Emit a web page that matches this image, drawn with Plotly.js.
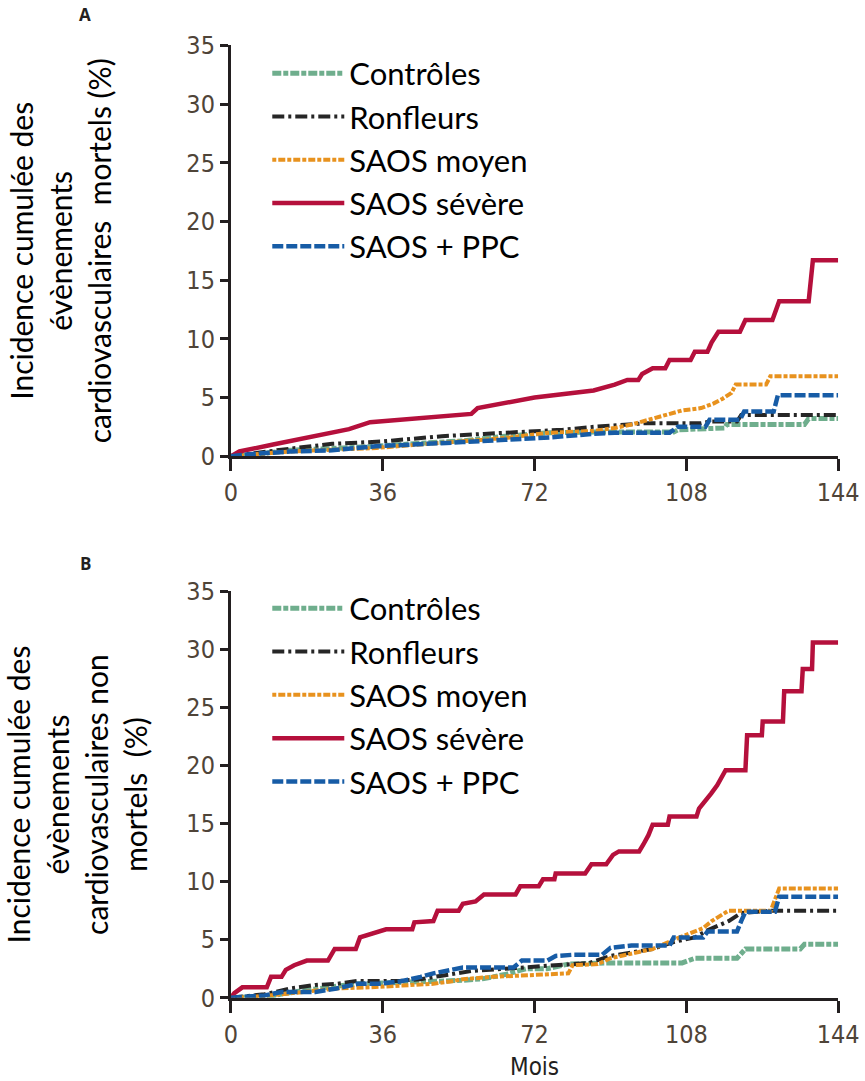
<!DOCTYPE html>
<html>
<head>
<meta charset="utf-8">
<script src="https://cdn.plot.ly/plotly-3.0.1.min.js"></script>
<style>html,body{margin:0;padding:0;background:#fff}#chart{width:865px;height:1081px}</style>
</head>
<body>
<div id="chart"></div>
<script>
// ---- Data (months, cumulative incidence %) ----
var seriesNames = ["Contrôles", "Ronfleurs", "SAOS moyen", "SAOS sévère", "SAOS + PPC"];
var xTickVals = [0, 36, 72, 108, 144];
var yTickVals = [0, 5, 10, 15, 20, 25, 30, 35];

// Panel A: fatal cardiovascular events
var monthsA_ctrl = [0, 5, 9, 14, 24, 29, 34.5, 44.8, 55, 65, 75.6, 86, 105, 106, 113.5, 117, 117.6, 136, 137, 144];
var valsA_ctrl   = [0, 0.1, 0.3, 0.5, 0.65, 0.7, 0.85, 1.1, 1.3, 1.7, 2.0, 2.05, 2.05, 2.25, 2.4, 2.4, 2.7, 2.7, 3.2, 3.2];

var monthsA_ronf = [0, 5, 12, 19, 24, 35.6, 41.7, 50, 60, 70, 78.7, 86, 91, 98, 111.5, 113.5, 120, 121, 144];
var valsA_ronf   = [0, 0.2, 0.55, 0.85, 1.05, 1.25, 1.45, 1.7, 1.9, 2.1, 2.25, 2.5, 2.6, 2.8, 2.8, 2.95, 2.95, 3.5, 3.5];

var monthsA_moy = [0, 6, 14, 24, 34.5, 44.8, 55, 65, 75.6, 86, 91, 95, 99, 103, 107, 111.5, 114.5, 116.6, 118.7, 119.7, 126.9, 127.9, 144];
var valsA_moy   = [0, 0.2, 0.4, 0.55, 0.7, 1.0, 1.25, 1.55, 2.0, 2.15, 2.4, 2.7, 3.1, 3.5, 3.9, 4.1, 4.5, 4.9, 5.4, 6.1, 6.1, 6.8, 6.8];

var monthsA_sev = [0, 2, 10, 20, 28, 33, 40, 50, 57, 58.5, 65, 72, 80, 86, 91, 94, 96.6, 97.5, 100, 103, 104, 109, 110, 113, 114, 115.6, 120.7, 122, 128.4, 130, 137, 138, 144];
var valsA_sev   = [0, 0.4, 1.0, 1.7, 2.3, 2.9, 3.1, 3.35, 3.6, 4.1, 4.5, 5.0, 5.35, 5.6, 6.1, 6.5, 6.5, 7.0, 7.5, 7.5, 8.2, 8.2, 8.9, 8.9, 9.7, 10.6, 10.6, 11.6, 11.6, 13.2, 13.2, 16.7, 16.7];

var monthsA_ppc = [0, 3.8, 14, 24, 34.5, 44.8, 55, 65, 75.6, 86, 91, 104, 106, 112.5, 113.5, 120.7, 121.7, 128.7, 129.7, 144];
var valsA_ppc   = [0, 0.15, 0.4, 0.5, 0.85, 1.0, 1.2, 1.4, 1.6, 1.9, 2.0, 2.0, 2.5, 2.5, 3.1, 3.1, 3.8, 3.8, 5.2, 5.2];

// Panel B: non-fatal cardiovascular events
var monthsB_ctrl = [0, 10, 15, 20, 25, 30, 40, 50, 55, 60, 65, 70, 75, 80, 90, 107, 110, 120, 122, 135, 136, 144];
var valsB_ctrl   = [0, 0.2, 0.5, 0.8, 1.0, 1.2, 1.3, 1.4, 1.5, 1.65, 2.0, 2.5, 2.5, 2.9, 3.0, 3.0, 3.4, 3.4, 4.2, 4.2, 4.6, 4.6];

var monthsB_ronf = [0, 8, 14, 20, 25, 30, 40, 45, 50, 57, 65, 72, 78, 85, 90, 100, 105, 110, 113, 118, 121, 128, 144];
var valsB_ronf   = [0, 0.3, 0.8, 1.1, 1.2, 1.45, 1.45, 1.6, 1.9, 2.3, 2.5, 2.7, 2.8, 3.0, 3.6, 4.2, 4.8, 5.2, 5.8, 6.6, 7.3, 7.5, 7.5];

var monthsB_moy = [0, 6, 12, 18, 25, 33, 45, 48, 52, 55, 62, 72, 80, 81, 87, 90, 95, 100, 105, 108, 112, 114, 118, 128, 129, 130, 144];
var valsB_moy   = [0, 0.1, 0.3, 0.5, 0.8, 0.9, 1.1, 1.2, 1.4, 1.6, 1.8, 2.0, 2.1, 2.8, 2.9, 3.4, 3.8, 4.2, 5.0, 5.4, 6.0, 6.6, 7.5, 7.5, 8.5, 9.4, 9.4];

var monthsB_sev = [0, 0.8, 2.7, 8.5, 9.5, 12, 13, 15, 18, 23, 24.6, 29.6, 30.6, 33.7, 36.8, 43, 43.5, 48, 49, 54, 55, 58, 60, 67.5, 68.6, 73, 74, 76.7, 77, 84, 85.5, 89, 90.6, 92, 96.8, 97.8, 99, 100, 103.6, 104, 110.4, 111, 112.5, 113.9, 115.3, 116.3, 117.3, 122, 122.1, 122.4, 125.9, 126.1, 130.9, 131.0, 131.2, 135.3, 135.6, 137.8, 138.0, 144];
var valsB_sev   = [0, 0.4, 0.9, 0.9, 1.8, 1.8, 2.4, 2.8, 3.2, 3.2, 4.2, 4.2, 5.2, 5.5, 5.9, 5.9, 6.5, 6.6, 7.5, 7.5, 8.1, 8.3, 8.9, 8.9, 9.6, 9.6, 10.2, 10.2, 10.7, 10.7, 11.5, 11.5, 12.3, 12.6, 12.6, 13.2, 14.0, 14.9, 14.9, 15.6, 15.6, 16.3, 16.9, 17.6, 18.3, 18.9, 19.6, 19.6, 21.6, 22.6, 22.6, 23.8, 23.8, 25.0, 26.4, 26.4, 28.3, 28.3, 30.6, 30.6];

var monthsB_ppc = [0, 8, 12, 20, 25, 30, 35, 40, 45, 48, 55, 67, 69, 75, 77, 81, 88, 90, 95, 104, 105, 112, 113, 120, 121, 122, 129, 130, 144];
var valsB_ppc   = [0, 0.2, 0.5, 0.5, 0.8, 1.2, 1.2, 1.4, 1.8, 2.1, 2.6, 2.6, 3.2, 3.2, 3.6, 3.7, 3.7, 4.3, 4.5, 4.5, 5.2, 5.2, 5.7, 5.7, 6.6, 7.4, 7.4, 8.7, 8.7];

// ---- Styles ----
var colors = ["#6fae8d", "#262626", "#e8921e", "#b5103c", "#175ca6"];
var dashes = ["9px,2px,5px,2px", "12px,4px,3px,4px", "4px,2px,7px,2px", "solid", "11px,3px"];
var widths = [5, 4, 4, 4.5, 4.5];

var txtFont = "Lato, 'Open Sans', sans-serif";
var numFont = "'Liberation Sans Narrow', 'DejaVu Sans Condensed', 'Roboto Condensed', Roboto, sans-serif";

var dataA = [[monthsA_ctrl, valsA_ctrl], [monthsA_ronf, valsA_ronf], [monthsA_moy, valsA_moy], [monthsA_sev, valsA_sev], [monthsA_ppc, valsA_ppc]];
var dataB = [[monthsB_ctrl, valsB_ctrl], [monthsB_ronf, valsB_ronf], [monthsB_moy, valsB_moy], [monthsB_sev, valsB_sev], [monthsB_ppc, valsB_ppc]];

var traces = [];
dataA.forEach(function (d, i) {
  traces.push({x: d[0], y: d[1], type: "scatter", mode: "lines", name: seriesNames[i],
    xaxis: "x", yaxis: "y", legend: "legend",
    line: {color: colors[i], width: widths[i], dash: dashes[i], shape: "linear"}});
});
dataB.forEach(function (d, i) {
  traces.push({x: d[0], y: d[1], type: "scatter", mode: "lines", name: seriesNames[i],
    xaxis: "x2", yaxis: "y2", legend: "legend2",
    line: {color: colors[i], width: widths[i], dash: dashes[i], shape: "linear"}});
});

function xAxis(anchor, withTitle) {
  var ax = {domain: [0.267, 0.969], range: [0, 144], anchor: anchor, tickvals: xTickVals,
    ticks: "outside", ticklen: 12, tickwidth: 3, tickcolor: "#231f20",
    showline: true, linewidth: 3, linecolor: "#231f20", showgrid: false, zeroline: false,
    tickfont: {family: numFont, size: 25, color: "#4f4438"}, fixedrange: true};
  if (withTitle) ax.title = {text: "Mois", font: {family: numFont, size: 24, color: "#231f20"}, standoff: 12};
  return ax;
}
function yAxis(anchor, domain, title, standoff) {
  return {domain: domain, range: [0, 35], anchor: anchor, tickvals: yTickVals,
    ticks: "outside", ticklen: 8, tickwidth: 3, tickcolor: "#231f20",
    showline: true, linewidth: 3, linecolor: "#231f20", showgrid: false, zeroline: false,
    tickfont: {family: numFont, size: 25, color: "#4f4438"}, fixedrange: true,
    title: {text: title, font: {family: txtFont, size: 30, color: "#000"}, standoff: standoff}};
}
function legendCfg(y) {
  return {x: 0.309, y: y, xanchor: "left", yanchor: "top", bgcolor: "rgba(0,0,0,0)",
    font: {family: txtFont, size: 31, color: "#000"}, itemwidth: 72, tracegroupgap: 0};
}

var layout = {
  width: 865, height: 1081,
  margin: {l: 0, r: 0, t: 0, b: 0},
  paper_bgcolor: "#fff", plot_bgcolor: "#fff",
  showlegend: true,
  xaxis: xAxis("y", false),
  yaxis: yAxis("x", [0.578, 0.958], "Incidence cumulée des<br>évènements<br>cardiovasculaires  mortels (%)", 66),
  xaxis2: xAxis("y2", true),
  yaxis2: yAxis("x2", [0.077, 0.453], "Incidence cumulée des<br>évènements<br>cardiovasculaires non<br>mortels  (%)", 30),
  legend: legendCfg(0.957),
  legend2: legendCfg(0.462),
  annotations: [
    {text: "<b>A</b>", x: 85, y: 15, xref: "paper", yref: "paper", showarrow: false},
    {text: "<b>B</b>", x: 85, y: 563, xref: "paper", yref: "paper", showarrow: false}
  ]
};
// convert A/B label pixel positions to paper coords
layout.annotations.forEach(function (a) {
  a.x = a.x / 865; a.y = 1 - a.y / 1081;
  a.xanchor = "center"; a.yanchor = "middle";
  a.font = {family: "'Open Sans', sans-serif", size: 17, color: "#231f20"};
});

Plotly.newPlot("chart", traces, layout, {displayModeBar: false, staticPlot: true});
</script>
</body>
</html>
